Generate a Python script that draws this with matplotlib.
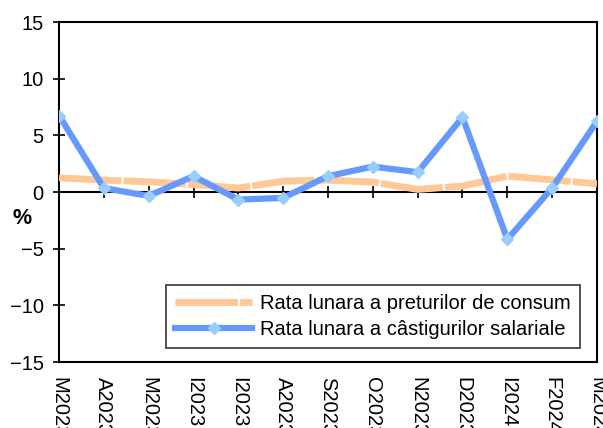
import matplotlib
matplotlib.use('Agg')
import matplotlib.pyplot as plt

plt.rcParams['font.family'] = ['Liberation Sans', 'DejaVu Sans']

months = ['M2023', 'A2023', 'M2023', 'I2023', 'I2023', 'A2023', 'S2023',
          'O2023', 'N2023', 'D2023', 'I2024', 'F2024', 'M2024']
preturi = [1.25, 1.05, 0.9, 0.67, 0.35, 0.96, 1.05, 0.87, 0.23, 0.52, 1.4, 1.07, 0.72]
castiguri = [6.75, 0.35, -0.35, 1.4, -0.67, -0.52, 1.4, 2.24, 1.75, 6.6, -4.17, 0.35, 6.25]

x = list(range(len(months)))
fs = 14.5

fig = plt.figure(figsize=(6.03, 4.28), dpi=100)
ax = fig.add_axes([59 / 603, 1 - 362 / 428, 538 / 603, 340 / 428])

ax.plot(x, preturi, color='#FFC896', lw=5, dashes=(9, 0.3),
        solid_capstyle='butt', label='Rata lunara a preturilor de consum', zorder=3)
ax.plot(x, castiguri, color='#6699FF', lw=4.5, marker='D', markersize=6,
        markerfacecolor='#99CCFF', markeredgecolor='#99CCFF',
        label='Rata lunara a câstigurilor salariale', zorder=4)

ax.set_xlim(0, len(months) - 1)
ax.set_ylim(-15, 15)
ax.set_yticks([-15, -10, -5, 0, 5, 10, 15])
ax.tick_params(axis='y', direction='inout', length=8, width=1.2, labelsize=fs, pad=7)

# x axis crossing at zero, labels on the bottom edge
ax.spines['bottom'].set_position(('data', 0))
ax.set_xticks(x)
ax.tick_params(axis='x', direction='inout', length=8, width=1.2, labelbottom=False)
for s in ax.spines.values():
    s.set_linewidth(1.5)
    s.set_color('black')

sec = ax.secondary_xaxis('bottom')
sec.set_xticks(x)
sec.set_xticklabels(months, rotation=-90, fontsize=fs, va='top', ha='center')
sec.tick_params(axis='x', length=0, pad=11)
sec.spines['bottom'].set_linewidth(1.5)

fig.text(22 / 603, 1 - 218 / 428, '%', fontsize=fs + 1, fontweight='bold',
         ha='center', va='center')

leg = ax.legend(loc='lower right', bbox_to_anchor=(0.968, 0.04), fontsize=fs,
                frameon=True, fancybox=False, handlelength=3.8, borderpad=0.45,
                labelspacing=0.35, handletextpad=0.4, borderaxespad=0)
leg.get_frame().set_edgecolor('black')
leg.get_frame().set_linewidth(1.2)

fig.savefig('out.png', dpi=100)
